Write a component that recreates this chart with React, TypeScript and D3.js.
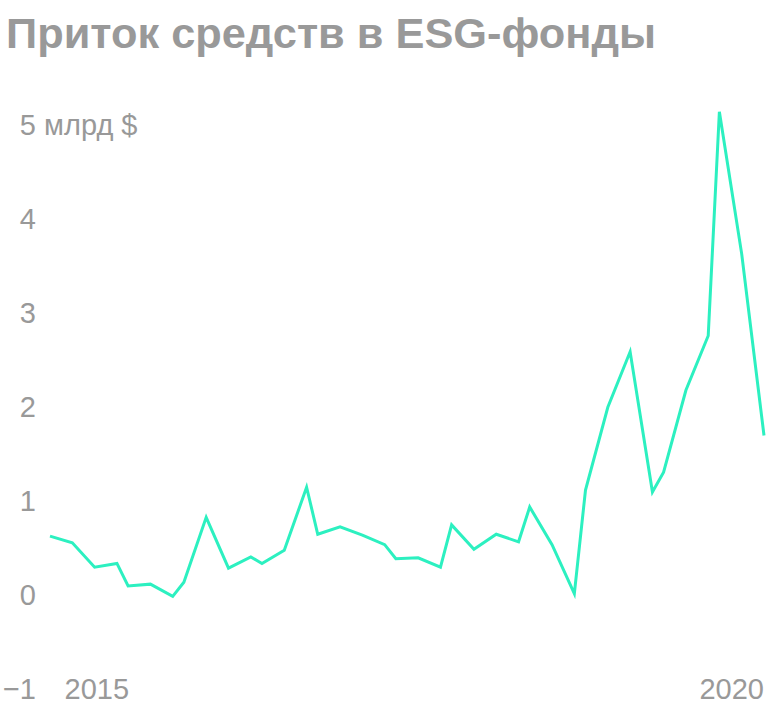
import React from "react";
import * as d3 from "d3";

const monthIdx = [0,2,4,6,7,9,11,12,14,16,18,19,21,23,24,26,28,30,31,33,35,36,38,40,42,43,45,47,48,50,52,54,55,57,59,60,62,64];
const flows = [0.62,0.55,0.29,0.33,0.09,0.11,-0.02,0.13,0.82,0.28,0.40,0.33,0.47,1.14,0.64,0.72,0.63,0.53,0.38,0.39,0.29,0.74,0.48,0.64,0.56,0.93,0.53,0.01,1.11,1.99,2.58,1.09,1.30,2.17,2.75,5.13,3.62,1.69];
const yTicks = [-1, 0, 1, 2, 3, 4, 5];
const yUnit = " млрд $";
const xTickLabels = ["2015", "2020"];
const xTickPos = [4.2, 64];
const title = "Приток средств в ESG-фонды";

const W = 768;
const H = 713;
const FONT = "'Liberation Sans', Arial, sans-serif";

export default function App() {
  const x = d3.scaleLinear().domain([0, 64]).range([50, 764]);
  const y = d3.scaleLinear().domain([-1, 5]).range([688.6, 124]);
  const pts = monthIdx.map((m, i) => [m, flows[i]] as [number, number]);
  const line = d3.line<[number, number]>().x(d => x(d[0])).y(d => y(d[1]));
  const fmt = (v: number) => (v < 0 ? "\u2212" + Math.abs(v) : String(v));
  return (
    <svg width={W} height={H} style={{ position: "absolute", left: 0, top: 0, display: "block" }} fontFamily={FONT}>
      <rect width={W} height={H} fill="#fff" />
      <text x={6} y={48} fontSize={43} fontWeight={700} fill="#999" textLength={650} lengthAdjust="spacingAndGlyphs">{title}</text>
      {yTicks.map(t => (
        <g key={t}>
          <text x={36} y={y(t) + 10.5} fontSize={29} fill="#999" textAnchor="end">{fmt(t)}</text>
          {t === 5 && <text x={36} y={y(t) + 10.5} fontSize={29} fill="#999" xmlSpace="preserve">{yUnit}</text>}
        </g>
      ))}
      {xTickLabels.map((l, i) => (
        <text key={l} x={x(xTickPos[i])} y={699} fontSize={29} fill="#999" textAnchor={i === 0 ? "middle" : "end"}>{l}</text>
      ))}
      <path d={line(pts) || ""} fill="none" stroke="#2cf0c0" strokeWidth={3} strokeLinejoin="miter" strokeMiterlimit={4} />
    </svg>
  );
}
